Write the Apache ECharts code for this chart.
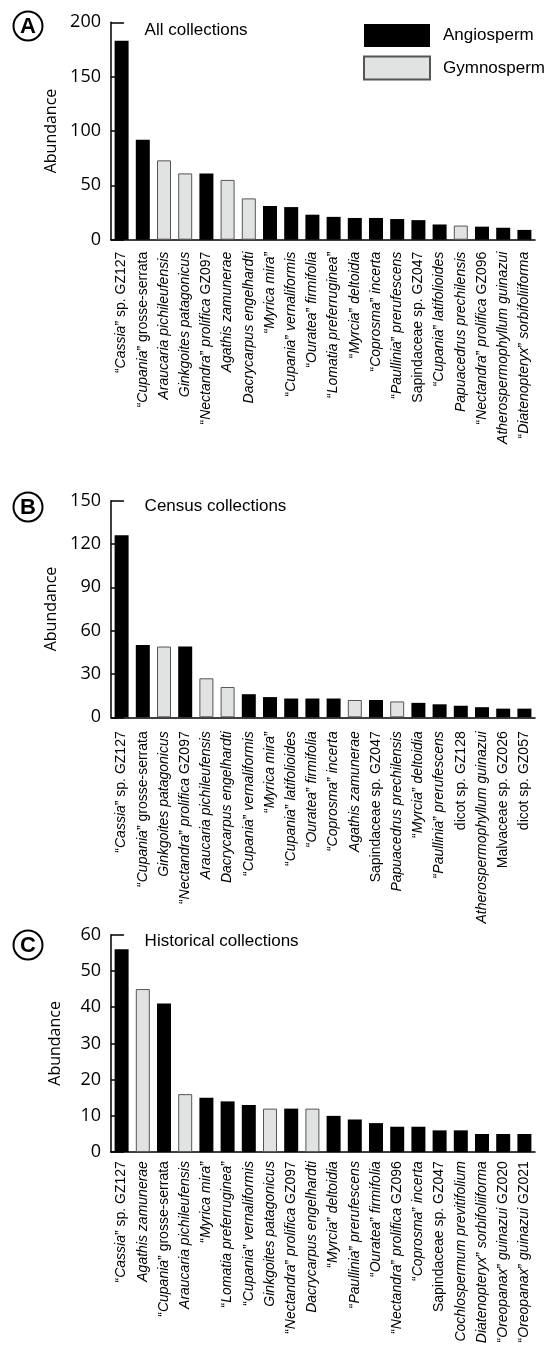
<!DOCTYPE html>
<html>
<head>
<meta charset="utf-8">
<script src="https://cdn.jsdelivr.net/npm/echarts@6/dist/echarts.min.js"></script>
<style>
html,body{margin:0;padding:0;background:#fff;}
#c{width:545px;height:1347px;}
</style>
</head>
<body>
<div id="c"></div>
<script>
// ---- Data (labels: *...* marks italic text) ----
const catsA = [
  '“*Cassia*” sp. GZ127','“*Cupania*” grosse-serrata','*Araucaria pichileufensis*','*Ginkgoites patagonicus*',
  '“*Nectandra*” *prolifica* GZ097','*Agathis zamunerae*','*Dacrycarpus engelhardti*','“*Myrica mira*”',
  '“*Cupania*” *vernaliformis*','“*Ouratea*” *firmifolia*','“*Lomatia preferruginea*”','“*Myrcia*” *deltoidia*',
  '“*Coprosma*” *incerta*','“*Paullinia*” *prerufescens*','Sapindaceae sp. GZ047','“*Cupania*” *latifolioides*',
  '*Papuacedrus prechilensis*','“*Nectandra*” *prolifica* GZ096','*Atherospermophyllum guinazui*','“*Diatenopteryx*” *sorbifoliiforma*'
];
const valsA = [183, 92, 73, 61, 61, 55, 38, 31, 30, 23, 21, 20, 20, 19, 18, 14, 13, 12, 11, 9];
const typeA = ['A','A','G','G','A','G','G','A','A','A','A','A','A','A','A','A','G','A','A','A'];

const catsB = [
  '“*Cassia*” sp. GZ127','“*Cupania*” grosse-serrata','*Ginkgoites patagonicus*','“*Nectandra*” *prolifica* GZ097',
  '*Araucaria pichileufensis*','*Dacrycarpus engelhardti*','“*Cupania*” *vernaliformis*','“*Myrica mira*”',
  '“*Cupania*” *latifolioides*','“*Ouratea*” *firmifolia*','“*Coprosma*” *incerta*','*Agathis zamunerae*',
  'Sapindaceae sp. GZ047','*Papuacedrus prechilensis*','“*Myrcia*” *deltoidia*','“*Paullinia*” *prerufescens*',
  'dicot sp. GZ128','*Atherospermophyllum guinazui*','Malvaceae sp. GZ026','dicot sp. GZ057'
];
const valsB = [126, 50, 49, 49, 27, 21, 16, 14, 13, 13, 13, 12, 12, 11, 10, 9, 8, 7, 6, 6];
const typeB = ['A','A','G','A','G','G','A','A','A','A','A','G','A','G','A','A','A','A','A','A'];

const catsC = [
  '“*Cassia*” sp. GZ127','*Agathis zamunerae*','“*Cupania*” grosse-serrata','*Araucaria pichileufensis*',
  '“*Myrica mira*”','“*Lomatia preferruginea*”','“*Cupania*” *vernaliformis*','*Ginkgoites patagonicus*',
  '“*Nectandra*” *prolifica* GZ097','*Dacrycarpus engelhardti*','“*Myrcia*” *deltoidia*','“*Paullinia*” *prerufescens*',
  '“*Ouratea*” *firmifolia*','“*Nectandra*” *prolifica* GZ096','“*Coprosma*” *incerta*','Sapindaceae sp. GZ047',
  '*Cochlospermum previtifolium*','*Diatenopteryx*” *sorbifoliiforma*','“*Oreopanax*” *guinazui* GZ020','“*Oreopanax*” *guinazui* GZ021'
];
const valsC = [56, 45, 41, 16, 15, 14, 13, 12, 12, 12, 10, 9, 8, 7, 7, 6, 6, 5, 5, 5];
const typeC = ['A','G','A','G','A','A','A','G','A','G','A','A','A','A','A','A','A','A','A','A'];

const panelLetters = ['A', 'B', 'C'];
const panelTitles = ['All collections', 'Census collections', 'Historical collections'];
const yMax = [200, 150, 60];
const yStep = [50, 30, 10];
const legendNames = ['Angiosperm', 'Gymnosperm'];

// ---- Layout / style ----
const SANS = '"Liberation Sans", Arial, sans-serif';
const TICKF = '"Open Sans", "Noto Sans", sans-serif';
const LBL = 14;
const gridTops = [22.3, 500.7, 934.7];
const gridH = [217.4, 216.6, 217.4];
const labelMargin = [12, 14, 9];
const letterY = [26, 507, 945];
const titleY = [30, 506.7, 941.7];

const panels = [
  {cats: catsA, vals: valsA, types: typeA},
  {cats: catsB, vals: valsB, types: typeB},
  {cats: catsC, vals: valsC, types: typeC}
];

function fmt(v) {
  return v.split('*').map((s, k) => s ? '{' + (k % 2 ? 'i' : 'n') + '|' + s + '}' : '').join('');
}

const grids = [], xAxes = [], yAxes = [], series = [], graphics = [];
panels.forEach((p, i) => {
  grids.push({left: 111, right: 10, top: gridTops[i], height: gridH[i],
    containLabel: false, outerBoundsMode: 'none'});
  xAxes.push({
    type: 'category', gridIndex: i, data: p.cats,
    axisLine: {lineStyle: {color: '#000', width: 1.6}},
    axisTick: {show: false},
    axisLabel: {
      rotate: 90, interval: 0, margin: labelMargin[i], color: '#000',
      fontFamily: SANS, fontSize: LBL,
      formatter: fmt,
      rich: {
        n: {fontFamily: SANS, fontSize: LBL, fontStyle: 'normal', color: '#000'},
        i: {fontFamily: SANS, fontSize: LBL, fontStyle: 'italic', color: '#000'}
      }
    }
  });
  yAxes.push({
    type: 'value', gridIndex: i, min: 0, max: yMax[i], interval: yStep[i],
    axisLine: {show: true, lineStyle: {color: '#000', width: 1.5}},
    axisTick: {show: true, inside: true, length: 13, lineStyle: {color: '#000', width: 1.5}},
    splitLine: {show: false},
    axisLabel: {fontFamily: TICKF, fontSize: 18, color: '#000', margin: 10},
    name: 'Abundance', nameLocation: 'middle', nameGap: 48,
    nameTextStyle: {fontFamily: TICKF, fontSize: 16, color: '#000'}
  });
  series.push({
    type: 'bar', name: legendNames[0], xAxisIndex: i, yAxisIndex: i, stack: 's' + i,
    barWidth: 14, data: p.vals.map((v, k) => p.types[k] === 'A' ? v : '-'),
    itemStyle: {color: '#000000'}, emphasis: {disabled: true}
  });
  series.push({
    type: 'bar', name: legendNames[1], xAxisIndex: i, yAxisIndex: i, stack: 's' + i,
    barWidth: 14, data: p.vals.map((v, k) => p.types[k] === 'G' ? v : '-'),
    itemStyle: {color: '#e1e3e2', borderColor: '#555', borderWidth: 1}, emphasis: {disabled: true}
  });
  graphics.push({
    type: 'circle', shape: {cx: 28, cy: letterY[i], r: 14.5},
    style: {fill: 'none', stroke: '#000', lineWidth: 2}
  });
  graphics.push({
    type: 'text', x: 28, y: letterY[i] + 1,
    style: {text: panelLetters[i], font: 'bold 22px ' + SANS, fill: '#000',
      align: 'center', verticalAlign: 'middle', textAlign: 'center', textVerticalAlign: 'middle'}
  });
  graphics.push({
    type: 'text', x: 144.6, y: titleY[i],
    style: {text: panelTitles[i], font: '17px ' + SANS, fill: '#000',
      align: 'left', verticalAlign: 'middle', textAlign: 'left', textVerticalAlign: 'middle'}
  });
});

const chart = echarts.init(document.getElementById('c'), null, {renderer: 'canvas'});
chart.setOption({
  animation: false,
  backgroundColor: '#fff',
  grid: grids, xAxis: xAxes, yAxis: yAxes, series: series,
  legend: {
    data: legendNames, orient: 'vertical', left: 363, top: 24, padding: 0,
    itemWidth: 66, itemHeight: 23, itemGap: 8.4, icon: 'rect', selectedMode: false,
    textStyle: {fontFamily: SANS, fontSize: 17, color: '#000', padding: [0, 0, 0, 8]}
  },
  graphic: graphics
});
</script>
</body>
</html>
